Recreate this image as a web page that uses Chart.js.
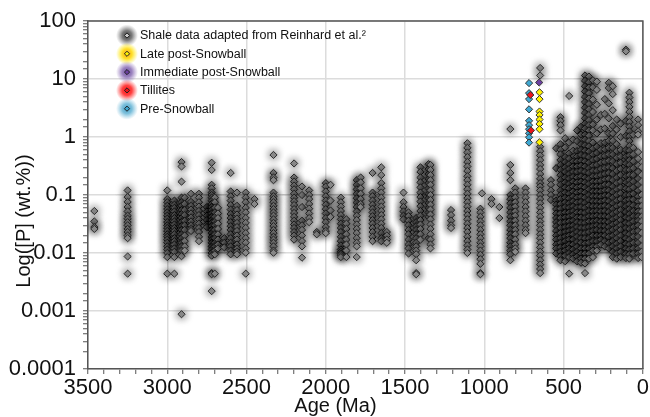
<!DOCTYPE html>
<html>
<head>
<meta charset="utf-8">
<script src="https://cdn.jsdelivr.net/npm/chart.js@4.4.1/dist/chart.umd.min.js"></script>
<style>
  html, body { margin: 0; padding: 0; background: #fff; }
  #wrap { width: 650px; height: 417px; }
</style>
</head>
<body>
<div id="wrap"><canvas id="chart"></canvas></div>
<script>
// Shale P data: [age (Ma), [P wt.% ...]]
const shaleArchean = [
  [3460, [0.053, 0.035, 0.028, 0.026]],
  [3250, [0.12, 0.092, 0.076, 0.062, 0.052, 0.044, 0.039, 0.034, 0.030, 0.026, 0.023, 0.020, 0.018, 0.0087, 0.0044]],
  [3000, [0.12, 0.085, 0.075, 0.065, 0.057, 0.05, 0.044, 0.039, 0.034, 0.03, 0.027, 0.024, 0.021, 0.019, 0.017, 0.015, 0.013, 0.0115, 0.01, 0.0085, 0.0044]],
  [2955, [0.08, 0.068, 0.06, 0.052, 0.045, 0.04, 0.035, 0.031, 0.027, 0.024, 0.021, 0.018, 0.016, 0.014, 0.012, 0.0105, 0.0085, 0.0044]],
  [2910, [0.37, 0.31, 0.17, 0.09, 0.075, 0.065, 0.055, 0.047, 0.04, 0.034, 0.029, 0.025, 0.021, 0.018, 0.015, 0.013, 0.011, 0.0088, 0.00088]],
  [2890, [0.09, 0.07, 0.055, 0.045, 0.036, 0.03, 0.025, 0.02, 0.016, 0.013, 0.011]],
  [2850, [0.105, 0.076, 0.065, 0.056, 0.048, 0.041, 0.035, 0.03, 0.026, 0.024]],
  [2800, [0.105, 0.09, 0.075, 0.063, 0.053, 0.045, 0.038, 0.032, 0.027, 0.023, 0.019, 0.016]],
  [2750, [0.062, 0.052, 0.044, 0.037, 0.031, 0.028]],
  [2720, [0.36, 0.27, 0.15, 0.13, 0.11, 0.1, 0.09, 0.08, 0.07, 0.062, 0.055, 0.048, 0.042, 0.037, 0.033, 0.029, 0.025, 0.022, 0.019, 0.017, 0.015, 0.013, 0.0115, 0.01, 0.009, 0.0045, 0.0043, 0.0022]],
  [2700, [0.09, 0.075, 0.06, 0.05, 0.042, 0.035, 0.03, 0.025, 0.021, 0.018, 0.015, 0.013, 0.011, 0.0095, 0.0044]],
  [2680, [0.06, 0.048, 0.04, 0.032, 0.026, 0.021, 0.017, 0.014, 0.012]],
  [2640, [0.018, 0.015, 0.0125]],
  [2600, [0.24, 0.115, 0.095, 0.08, 0.067, 0.056, 0.047, 0.04, 0.034, 0.029, 0.025, 0.021, 0.018, 0.015, 0.013, 0.011, 0.0095]],
  [2560, [0.11, 0.065, 0.055, 0.046, 0.039, 0.033, 0.028, 0.024, 0.02, 0.017, 0.014, 0.012, 0.0105, 0.0095]],
  [2505, [0.11, 0.09, 0.075, 0.06, 0.05, 0.04, 0.033, 0.027, 0.022, 0.018, 0.015, 0.012, 0.0101, 0.0044]],
  [2450, [0.085, 0.07]]
];

const shaleProterozoic = [
  [2330, [0.49, 0.24, 0.2, 0.18, 0.11, 0.095, 0.085, 0.075, 0.065, 0.057, 0.05, 0.044, 0.038, 0.033, 0.029, 0.025, 0.022, 0.019, 0.017, 0.015, 0.013, 0.011, 0.0101]],
  [2200, [0.35, 0.2, 0.17, 0.145, 0.125, 0.105, 0.09, 0.078, 0.067, 0.057, 0.049, 0.042, 0.036, 0.031, 0.027, 0.023, 0.02, 0.017]],
  [2150, [0.14, 0.1, 0.062, 0.036, 0.03, 0.025, 0.02, 0.016, 0.013, 0.0083]],
  [2105, [0.12, 0.1, 0.085, 0.07, 0.058, 0.048, 0.04, 0.034]],
  [2057, [0.023, 0.021]],
  [2000, [0.16, 0.14, 0.115, 0.095, 0.08, 0.068, 0.057, 0.048, 0.04, 0.034, 0.028, 0.024, 0.022]],
  [1970, [0.15, 0.08, 0.054, 0.042]],
  [1905, [0.09, 0.075, 0.063, 0.053, 0.045, 0.038, 0.032, 0.027, 0.023, 0.019, 0.016, 0.0135, 0.0115, 0.0105, 0.0098, 0.0092, 0.0085]],
  [1870, [0.038, 0.032, 0.026, 0.021, 0.017, 0.014, 0.011, 0.0085]],
  [1805, [0.18, 0.15, 0.125, 0.105, 0.088, 0.074, 0.062, 0.052, 0.044, 0.037, 0.031, 0.026, 0.022, 0.018, 0.015, 0.013, 0.0085]],
  [1780, [0.2, 0.165, 0.13, 0.105, 0.085, 0.07, 0.062]],
  [1705, [0.24, 0.11, 0.095, 0.08, 0.068, 0.058, 0.05, 0.043, 0.037, 0.032, 0.027, 0.023, 0.019, 0.016]],
  [1650, [0.3, 0.22, 0.16, 0.13, 0.11, 0.09, 0.075, 0.063, 0.053, 0.045, 0.038, 0.032, 0.027, 0.022, 0.018, 0.016]],
  [1615, [0.023, 0.02, 0.017, 0.015]],
  [1510, [0.11, 0.075, 0.062, 0.052, 0.044, 0.038]],
  [1478, [0.05, 0.043, 0.036, 0.03, 0.025, 0.021, 0.017, 0.014, 0.012, 0.0098]],
  [1430, [0.04, 0.034, 0.029, 0.025, 0.021, 0.018, 0.015, 0.013, 0.011, 0.0095, 0.0075, 0.0045, 0.0043]],
  [1403, [0.3, 0.25, 0.2, 0.165, 0.135, 0.11, 0.092, 0.077, 0.064, 0.053, 0.044, 0.037, 0.031, 0.026, 0.021, 0.017]],
  [1352, [0.34, 0.28, 0.23, 0.19, 0.16, 0.13, 0.105, 0.088, 0.073, 0.06, 0.05, 0.042, 0.018]],
  [1340, [0.33, 0.27, 0.22, 0.18, 0.15, 0.12, 0.1, 0.082, 0.068, 0.056, 0.046, 0.038, 0.031, 0.026, 0.021, 0.017, 0.014, 0.012]],
  [1210, [0.055, 0.045, 0.036, 0.03, 0.027]],
  [1107, [0.78, 0.65, 0.54, 0.45, 0.37, 0.31, 0.26, 0.21, 0.18, 0.15, 0.125, 0.105, 0.088, 0.075, 0.063, 0.053, 0.045, 0.038, 0.032, 0.027, 0.023, 0.019, 0.016, 0.0135, 0.0115, 0.01]],
  [1025, [0.058, 0.05, 0.042, 0.035, 0.03, 0.025, 0.021, 0.018, 0.015, 0.013, 0.011, 0.0093, 0.0078, 0.0065, 0.0045, 0.0043]],
  [1015, [0.107]],
  [955, [0.085, 0.07]],
  [905, [0.062, 0.04]],
  [836, [1.37, 0.33, 0.24, 0.18, 0.1, 0.085, 0.072, 0.06, 0.05, 0.042, 0.035, 0.03, 0.025, 0.021, 0.018, 0.015, 0.013, 0.011, 0.0095, 0.0075]],
  [805, [0.13, 0.11, 0.09, 0.075, 0.063, 0.052, 0.044, 0.036, 0.03, 0.025, 0.021, 0.017, 0.014, 0.012, 0.0105]],
  [740, [0.13, 0.11, 0.09, 0.075, 0.062, 0.052, 0.043, 0.036, 0.03, 0.025, 0.022]]
];

const shalePhanerozoic = [
  [648, [15.5, 11.5, 0.68, 0.57, 0.48, 0.4, 0.33, 0.28, 0.23, 0.19, 0.16, 0.14, 0.12, 0.1, 0.085, 0.072, 0.06, 0.05, 0.042, 0.035, 0.03, 0.025, 0.021, 0.018, 0.015, 0.0125, 0.0105, 0.009, 0.0075, 0.0063, 0.0053, 0.0045]],
  [580, [0.18, 0.15, 0.12, 0.1, 0.082]],
  [547, [0.64, 0.29, 0.08, 0.068, 0.057, 0.048, 0.04, 0.034, 0.029, 0.024, 0.02, 0.017, 0.014, 0.012, 0.0098]],
  [520, [2.2, 1.9, 1.6, 1.3, 0.75, 0.6, 0.5, 0.4, 0.33, 0.27, 0.22, 0.18, 0.15, 0.12, 0.1, 0.085, 0.07, 0.058, 0.048, 0.04, 0.033, 0.027, 0.022, 0.018, 0.015, 0.0125, 0.0105, 0.0088, 0.0075]],
  [490, [0.95, 0.66, 0.45, 0.37, 0.3, 0.25, 0.2, 0.165, 0.135, 0.11, 0.09, 0.075, 0.062, 0.05, 0.041, 0.034, 0.028, 0.023, 0.019, 0.016, 0.013, 0.011, 0.009, 0.0072]],
  [465, [5.1, 0.8, 0.52, 0.42, 0.34, 0.28, 0.23, 0.19, 0.155, 0.13, 0.105, 0.087, 0.072, 0.06, 0.05, 0.042, 0.035, 0.029, 0.024, 0.02, 0.017, 0.014, 0.012, 0.01, 0.0085, 0.0044]],
  [440, [0.9, 0.58, 0.38, 0.31, 0.25, 0.205, 0.17, 0.14, 0.115, 0.095, 0.078, 0.064, 0.053, 0.044, 0.036, 0.03, 0.025, 0.021, 0.017, 0.014, 0.0115, 0.0095, 0.008]],
  [415, [1.3, 0.85, 0.57, 0.46, 0.38, 0.31, 0.25, 0.2, 0.165, 0.135, 0.11, 0.09, 0.074, 0.06, 0.05, 0.041, 0.034, 0.028, 0.023, 0.019, 0.0155, 0.0128, 0.0105, 0.0087, 0.0072]],
  [390, [1.5, 1.1, 0.75, 0.6, 0.49, 0.39, 0.32, 0.26, 0.21, 0.17, 0.14, 0.115, 0.093, 0.076, 0.062, 0.05, 0.041, 0.033, 0.027, 0.022, 0.018, 0.015, 0.012, 0.0098, 0.008, 0.0068]],
  [365, [11.5, 9.3, 7.5, 6.1, 4.9, 4.0, 3.2, 2.6, 2.1, 1.7, 1.4, 1.1, 0.9, 0.72, 0.58, 0.47, 0.38, 0.31, 0.25, 0.2, 0.165, 0.135, 0.11, 0.09, 0.073, 0.06, 0.049, 0.04, 0.033, 0.027, 0.022, 0.018, 0.0145, 0.012, 0.0098, 0.008, 0.0066, 0.0045]],
  [340, [11, 8.8, 7.1, 5.7, 4.6, 3.7, 3.0, 2.4, 1.95, 1.6, 1.3, 1.05, 0.85, 0.69, 0.56, 0.45, 0.36, 0.29, 0.24, 0.19, 0.155, 0.125, 0.1, 0.082, 0.066, 0.053, 0.043, 0.035, 0.028, 0.023, 0.018, 0.015, 0.012, 0.0098, 0.008]],
  [315, [9.5, 7.2, 4.4, 2.7, 1.65, 1.3, 0.8, 0.63, 0.5, 0.4, 0.32, 0.26, 0.21, 0.17, 0.14, 0.115, 0.095, 0.078, 0.064, 0.052, 0.043, 0.035, 0.029, 0.024, 0.02, 0.016, 0.013, 0.011, 0.0085]],
  [290, [9, 6.5, 3.6, 2.0, 1.15, 0.68, 0.53, 0.42, 0.33, 0.26, 0.21, 0.17, 0.14, 0.115, 0.095, 0.078, 0.064, 0.053, 0.044, 0.036, 0.03, 0.025, 0.02, 0.016, 0.013, 0.011]],
  [265, [2.4, 1.35, 0.78, 0.6, 0.46, 0.36, 0.28, 0.22, 0.175, 0.14, 0.115, 0.094, 0.077, 0.063, 0.052, 0.043, 0.035, 0.029, 0.024, 0.02, 0.017, 0.014]],
  [240, [4.5, 2.5, 1.4, 0.8, 0.61, 0.47, 0.37, 0.29, 0.23, 0.185, 0.15, 0.12, 0.098, 0.08, 0.065, 0.053, 0.043, 0.035, 0.029, 0.024, 0.02, 0.016, 0.013]],
  [215, [8.6, 7, 3.8, 2.1, 1.15, 0.86, 0.65, 0.5, 0.39, 0.3, 0.24, 0.19, 0.15, 0.12, 0.097, 0.078, 0.063, 0.051, 0.042, 0.034, 0.028, 0.023, 0.019, 0.015, 0.012]],
  [190, [7.5, 5.5, 2.9, 1.55, 1.15, 0.86, 0.65, 0.5, 0.38, 0.29, 0.23, 0.18, 0.14, 0.112, 0.09, 0.072, 0.058, 0.047, 0.038, 0.031, 0.025, 0.02, 0.016, 0.013, 0.0105, 0.0085]],
  [165, [2.0, 1.35, 0.75, 0.57, 0.44, 0.34, 0.26, 0.2, 0.16, 0.125, 0.1, 0.08, 0.064, 0.051, 0.041, 0.033, 0.027, 0.022, 0.018, 0.0145, 0.012, 0.0098, 0.008]],
  [140, [1.7, 1.0, 0.6, 0.46, 0.36, 0.28, 0.22, 0.17, 0.135, 0.107, 0.085, 0.068, 0.055, 0.045, 0.037, 0.03, 0.025, 0.02, 0.016, 0.013, 0.0105, 0.0085]],
  [107, [32, 30, 1.9, 1.05, 0.6, 0.46, 0.35, 0.27, 0.21, 0.165, 0.13, 0.1, 0.08, 0.064, 0.051, 0.041, 0.033, 0.027, 0.022, 0.018, 0.0145, 0.012, 0.0098, 0.0082]],
  [85, [5.8, 4.8, 4.0, 3.3, 2.7, 2.2, 1.8, 1.5, 1.25, 1.03, 0.85, 0.7, 0.58, 0.48, 0.4, 0.33, 0.27, 0.22, 0.18, 0.15, 0.125, 0.1, 0.083, 0.069, 0.057, 0.047, 0.039, 0.032, 0.026, 0.021, 0.017, 0.014, 0.0115, 0.0095, 0.008]],
  [60, [1.1, 0.65, 0.5, 0.38, 0.29, 0.22, 0.17, 0.135, 0.105, 0.083, 0.066, 0.053, 0.043, 0.035, 0.028, 0.023, 0.019, 0.015, 0.012, 0.0098]],
  [30, [2.0, 1.6, 1.25, 1.1, 0.55, 0.42, 0.32, 0.25, 0.19, 0.15, 0.12, 0.095, 0.077, 0.063, 0.052, 0.043, 0.036, 0.03, 0.024, 0.019, 0.015, 0.012, 0.0098, 0.0082]],
  [8, [0.3, 0.22, 0.17, 0.13, 0.1, 0.08, 0.064, 0.052, 0.042, 0.035, 0.028, 0.022, 0.017, 0.013, 0.0105, 0.0085]]
];

// Snowball-era samples
const lateAges = [652, 652, 652, 652, 652, 652, 652, 652];
const lateP = [5.9, 4.5, 2.75, 2.4, 2.0, 1.68, 1.36, 0.81];
const immediateAges = [654];
const immediateP = [8.7];
const tilliteAges = [710, 706];
const tilliteP = [5.3, 1.3];
const preAges = [718, 718, 718, 718, 718, 718, 718, 718, 718, 718];
const preP = [8.5, 5.7, 4.5, 3.0, 1.9, 1.6, 1.36, 1.16, 0.99, 0.8];

const xTicksMajor = [3500, 3000, 2500, 2000, 1500, 1000, 500, 0];
const xTitle = 'Age (Ma)';
const yTitle = 'Log([P] (wt.%))';

function columnsToPoints(cols) {
  return cols.flatMap(([age, vals]) => vals.map(v => ({ x: age, y: v })));
}
function pairsToPoints(ages, vals) {
  return ages.map((a, i) => ({ x: a, y: vals[i] }));
}
function isPow10(v) {
  const l = Math.log10(v);
  return Math.abs(l - Math.round(l)) < 1e-6;
}

const FONT = "'Liberation Sans', Arial, Helvetica, sans-serif";

// soft dark halo round the points
const glowPlugin = {
  id: 'glow',
  beforeDatasetDraw(chart, args) {
    const ds = chart.data.datasets[args.index];
    const ctx = chart.ctx;
    ctx.save();
    if (ds.glowBlur) {
      ctx.shadowColor = ds.glowColor;
      ctx.shadowBlur = ds.glowBlur;
      ctx.shadowOffsetX = 0;
      ctx.shadowOffsetY = 0;
    }
  },
  afterDatasetDraw(chart) {
    chart.ctx.restore();
  }
};

// top and right frame lines
const framePlugin = {
  id: 'frame',
  afterDatasetsDraw(chart) {
    const { ctx, chartArea: a } = chart;
    ctx.save();
    ctx.strokeStyle = '#555';
    ctx.lineWidth = 1.5;
    ctx.beginPath();
    ctx.moveTo(a.left, a.top);
    ctx.lineTo(a.right, a.top);
    ctx.lineTo(a.right, a.bottom);
    ctx.stroke();
    ctx.restore();
  }
};

// axis titles (placed like in the original figure, a bit off-centre)
const titlesPlugin = {
  id: 'axisTitles',
  afterDraw(chart) {
    const { ctx, chartArea: a } = chart;
    ctx.save();
    ctx.fillStyle = '#111';
    ctx.textAlign = 'center';
    ctx.textBaseline = 'middle';
    ctx.font = '20px ' + FONT;
    ctx.fillText(xTitle, (a.left + a.right) / 2 - 30, a.bottom + 37);
    ctx.translate(24, (a.top + a.bottom) / 2 + 26);
    ctx.rotate(-Math.PI / 2);
    ctx.font = '20px ' + FONT;
    ctx.fillText(yTitle, 0, 0);
    ctx.restore();
  }
};

// legend drawn inside the plot, with glowing markers
const legendPlugin = {
  id: 'insideLegend',
  afterDraw(chart) {
    const { ctx, chartArea: a } = chart;
    const x0 = a.left + 39;
    let y = a.top + 14.5;
    ctx.save();
    ctx.font = '12.5px ' + FONT;
    ctx.textBaseline = 'middle';
    chart.data.datasets.forEach(ds => {
      const g = ctx.createRadialGradient(x0, y, 0, x0, y, 11);
      g.addColorStop(0, ds.legendGlow[0]);
      g.addColorStop(0.45, ds.legendGlow[1]);
      g.addColorStop(1, ds.legendGlow[2]);
      ctx.fillStyle = g;
      ctx.beginPath();
      ctx.arc(x0, y, 11, 0, Math.PI * 2);
      ctx.fill();
      const r = 2.6;
      ctx.beginPath();
      ctx.moveTo(x0 - r, y);
      ctx.lineTo(x0, y - r);
      ctx.lineTo(x0 + r, y);
      ctx.lineTo(x0, y + r);
      ctx.closePath();
      ctx.fillStyle = ds.legendFill;
      ctx.fill();
      ctx.strokeStyle = '#222';
      ctx.lineWidth = 1;
      ctx.stroke();
      ctx.fillStyle = '#111';
      ctx.fillText(ds.label, x0 + 13, y + 0.5);
      y += 18.3;
    });
    ctx.restore();
  }
};

new Chart(document.getElementById('chart'), {
  type: 'scatter',
  data: {
    datasets: [
      {
        label: 'Shale data adapted from Reinhard et al.\u00B2',
        data: columnsToPoints(shaleArchean)
          .concat(columnsToPoints(shaleProterozoic))
          .concat(columnsToPoints(shalePhanerozoic)),
        backgroundColor: '#969696',
        borderColor: '#2b2b2b',
        glowColor: 'rgba(0,0,0,1)',
        glowBlur: 8,
        legendFill: '#c8c8c8',
        legendGlow: ['rgba(60,60,60,1)', 'rgba(90,90,90,0.8)', 'rgba(130,130,130,0)'],
        order: 5
      },
      {
        label: 'Late post-Snowball',
        data: pairsToPoints(lateAges, lateP),
        backgroundColor: '#fff200',
        borderColor: '#333',
        legendFill: '#fff200',
        legendGlow: ['rgba(240,150,40,1)', 'rgba(255,215,0,0.85)', 'rgba(255,240,0,0)'],
        order: 3
      },
      {
        label: 'Immediate post-Snowball',
        data: pairsToPoints(immediateAges, immediateP),
        backgroundColor: '#6b3fa0',
        borderColor: '#333',
        legendFill: '#6b3fa0',
        legendGlow: ['rgba(110,80,160,1)', 'rgba(130,100,175,0.8)', 'rgba(150,120,190,0)'],
        order: 2
      },
      {
        label: 'Tillites',
        data: pairsToPoints(tilliteAges, tilliteP),
        backgroundColor: '#e8141b',
        borderColor: '#333',
        legendFill: '#e8141b',
        legendGlow: ['rgba(255,20,20,1)', 'rgba(255,30,30,0.85)', 'rgba(255,60,60,0)'],
        order: 1
      },
      {
        label: 'Pre-Snowball',
        data: pairsToPoints(preAges, preP),
        backgroundColor: '#3fa8d2',
        borderColor: '#333',
        legendFill: '#3fa8d2',
        legendGlow: ['rgba(70,160,200,1)', 'rgba(90,175,210,0.8)', 'rgba(120,190,220,0)'],
        order: 4
      }
    ]
  },
  options: {
    responsive: true,
    maintainAspectRatio: false,
    animation: false,
    devicePixelRatio: 1,
    layout: { padding: { top: 21, right: 5, left: 0, bottom: 0 } },
    elements: {
      point: { pointStyle: 'rectRot', radius: 3.6, borderWidth: 1, hoverRadius: 3.6 }
    },
    plugins: {
      legend: { display: false },
      tooltip: { enabled: false }
    },
    scales: {
      x: {
        type: 'linear',
        reverse: true,
        min: 0,
        max: 3500,
        afterFit: s => { s.height = 48; },
        ticks: {
          stepSize: 100,
          autoSkip: false,
          maxRotation: 0,
          padding: 1,
          color: '#111',
          font: { family: FONT, size: 22 },
          callback: v => xTicksMajor.includes(v) ? String(v) : ''
        },
        grid: {
          color: c => (c.tick && xTicksMajor.includes(c.tick.value)) ? '#dcdcdc' : 'rgba(0,0,0,0)',
          lineWidth: 1.5,
          tickLength: 5,
          tickColor: '#555',
          tickWidth: 1
        },
        border: { color: '#555', width: 1.5 }
      },
      y: {
        type: 'logarithmic',
        min: 0.0001,
        max: 100,
        afterFit: s => { s.width = 88; },
        ticks: {
          autoSkip: false,
          padding: 7,
          color: '#111',
          font: { family: FONT, size: 22 },
          callback: v => {
            if (!isPow10(v)) return '';
            const e = Math.round(Math.log10(v));
            return e >= 0 ? String(Math.pow(10, e)) : Math.pow(10, e).toFixed(-e);
          }
        },
        grid: {
          color: c => (c.tick && isPow10(c.tick.value)) ? '#dcdcdc' : 'rgba(0,0,0,0)',
          lineWidth: 1.5,
          tickLength: 5,
          tickColor: '#555',
          tickWidth: 1
        },
        border: { color: '#555', width: 1.5 }
      }
    }
  },
  plugins: [glowPlugin, framePlugin, titlesPlugin, legendPlugin]
});
</script>
</body>
</html>
